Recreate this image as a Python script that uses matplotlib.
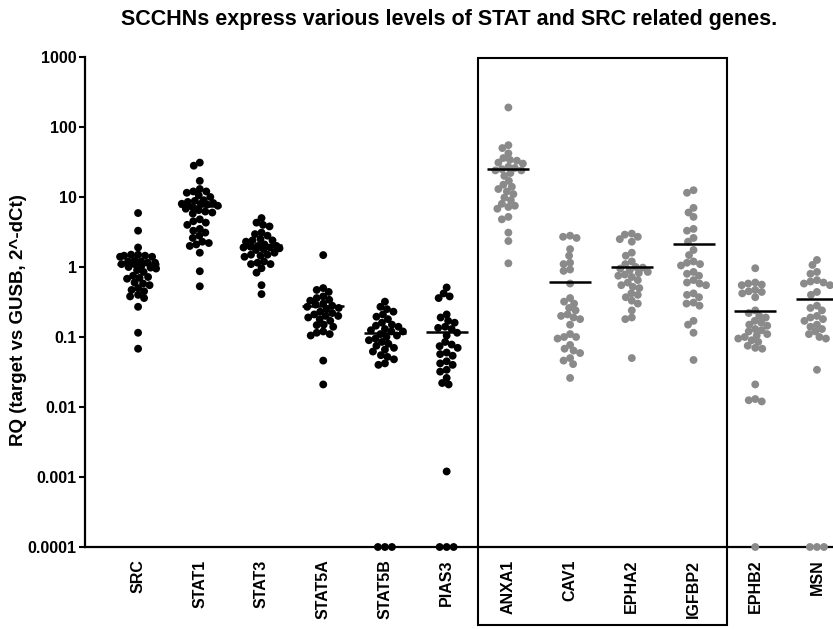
import numpy as np
import matplotlib
matplotlib.use('Agg')
import matplotlib.pyplot as plt
from matplotlib.patches import Rectangle

plt.rcParams['font.family'] = ['Liberation Sans', 'DejaVu Sans']

title = "SCCHNs express various levels of STAT and SRC related genes."
ylabel = "RQ (target vs GUSB, 2^-dCt)"
genes = ["SRC", "STAT1", "STAT3", "STAT5A", "STAT5B", "PIAS3",
         "ANXA1", "CAV1", "EPHA2", "IGFBP2", "EPHB2", "MSN"]
yticks = [0.0001, 0.001, 0.01, 0.1, 1, 10, 100, 1000]
ytick_labels = ["0.0001", "0.001", "0.01", "0.1", "1", "10", "100", "1000"]

SRC = [5.9, 3.3, 1.9, 1.5, 1.5, 1.45, 1.45, 1.4, 1.4, 1.25, 1.2, 1.2, 1.15, 1.15,
       1.1, 1.1, 1.05, 1.0, 0.98, 0.95, 0.9, 0.85, 0.75, 0.72, 0.7, 0.68, 0.6,
       0.58, 0.55, 0.5, 0.47, 0.45, 0.4, 0.38, 0.36, 0.27, 0.115, 0.068]
STAT1 = [31, 28, 17, 13, 12, 12, 11.5, 10.5, 10, 9, 8.8, 8.5, 8.2, 8.0, 8.0, 7.8,
         7.5, 7.2, 6.8, 6.5, 6.2, 6.0, 5.8, 4.8, 4.5, 4.3, 4.0, 3.5, 3.3, 3.1, 2.8,
         2.6, 2.3, 2.2, 2.1, 2.0, 1.6, 0.87, 0.53]
STAT3 = [5.0, 4.3, 4.0, 3.8, 3.1, 2.95, 2.8, 2.5, 2.4, 2.4, 2.3, 2.1, 2.0, 2.0,
         1.95, 1.9, 1.9, 1.85, 1.8, 1.75, 1.6, 1.5, 1.5, 1.45, 1.4, 1.2, 1.15, 1.1,
         1.1, 0.96, 0.83, 0.55, 0.41]
STAT5A = [1.48, 0.5, 0.47, 0.44, 0.38, 0.36, 0.34, 0.33, 0.3, 0.29, 0.28, 0.27,
          0.26, 0.25, 0.23, 0.22, 0.21, 0.2, 0.2, 0.19, 0.18, 0.17, 0.15, 0.148,
          0.14, 0.12, 0.115, 0.11, 0.105, 0.046, 0.021]
STAT5B = [0.32, 0.27, 0.25, 0.23, 0.21, 0.195, 0.18, 0.16, 0.15, 0.145, 0.14, 0.13,
          0.125, 0.12, 0.12, 0.11, 0.105, 0.1, 0.095, 0.09, 0.085, 0.08, 0.075, 0.07,
          0.066, 0.062, 0.055, 0.052, 0.048, 0.042, 0.04, 0.0001, 0.0001, 0.0001]
PIAS3 = [0.51, 0.42, 0.38, 0.36, 0.21, 0.19, 0.17, 0.16, 0.14, 0.135, 0.13, 0.115,
         0.105, 0.085, 0.078, 0.074, 0.07, 0.06, 0.057, 0.054, 0.045, 0.042, 0.04,
         0.034, 0.032, 0.026, 0.022, 0.021, 0.0012, 0.0001, 0.0001, 0.0001]
ANXA1 = [190, 55, 50, 42, 36, 34, 33, 31, 30, 27, 26, 25, 24, 24, 22, 20, 17, 15,
         14, 13, 12, 11, 9.8, 9.0, 8.0, 7.5, 7.2, 6.8, 5.2, 4.8, 3.1, 2.35, 1.13]
CAV1 = [2.8, 2.7, 2.6, 1.8, 1.45, 1.15, 1.1, 0.92, 0.88, 0.58, 0.36, 0.32, 0.3,
        0.26, 0.24, 0.21, 0.2, 0.19, 0.18, 0.15, 0.11, 0.1, 0.1, 0.095, 0.077, 0.068,
        0.064, 0.059, 0.05, 0.046, 0.041, 0.026]
EPHA2 = [3.0, 2.9, 2.7, 2.5, 2.3, 1.6, 1.45, 1.2, 1.1, 1.0, 0.98, 0.95, 0.9, 0.85,
         0.82, 0.78, 0.75, 0.72, 0.65, 0.6, 0.55, 0.52, 0.5, 0.42, 0.4, 0.37, 0.33,
         0.3, 0.24, 0.19, 0.18, 0.05]
IGFBP2 = [12.5, 11.5, 7.0, 6.0, 5.2, 3.5, 3.3, 2.6, 2.3, 1.75, 1.48, 1.2, 1.15, 1.1,
          1.05, 0.85, 0.8, 0.75, 0.65, 0.6, 0.58, 0.55, 0.42, 0.4, 0.37, 0.31, 0.3,
          0.28, 0.17, 0.15, 0.115, 0.047]
EPHB2 = [0.96, 0.6, 0.58, 0.56, 0.55, 0.47, 0.45, 0.44, 0.42, 0.37, 0.24, 0.22, 0.2,
         0.19, 0.17, 0.16, 0.15, 0.145, 0.13, 0.125, 0.12, 0.11, 0.105, 0.1, 0.095,
         0.09, 0.085, 0.075, 0.07, 0.068, 0.021, 0.013, 0.0125, 0.012, 0.0001]
MSN = [1.26, 1.07, 0.85, 0.8, 0.65, 0.62, 0.6, 0.58, 0.55, 0.44, 0.4, 0.28, 0.26,
       0.24, 0.2, 0.19, 0.18, 0.17, 0.15, 0.14, 0.13, 0.12, 0.11, 0.1, 0.095, 0.034,
       0.0001, 0.0001, 0.0001]

series = [SRC, STAT1, STAT3, STAT5A, STAT5B, PIAS3,
          ANXA1, CAV1, EPHA2, IGFBP2, EPHB2, MSN]
dot_colors = ["black"] * 6 + ["#8a8a8a"] * 6

W, H = 833, 629
fig = plt.figure(figsize=(W / 100, H / 100), dpi=100)
ax_left, ax_bottom, ax_top = 85, 547, 57
ax = fig.add_axes([ax_left / W, (H - ax_bottom) / H, 1 - ax_left / W,
                   (ax_bottom - ax_top) / H])
ax.set_yscale('log')
ax.set_ylim(1e-4, 1e3)
ax.set_xlim(-0.86, 11.26)

fig.canvas.draw()
px_per_unit = ax.transData.transform((1, 1))[0] - ax.transData.transform((0, 1))[0]
d = 6.6       # collision distance in px (allows slight overlap)
half_w = 18.0  # max horizontal spread in px
cand = np.arange(-half_w, half_w + 0.01, 0.5)


def swarm(vals):
    ys = ax.transData.transform(np.column_stack([np.zeros(len(vals)), vals]))[:, 1]
    order = np.argsort(-ys)
    px_list, py_list = [], []
    offs = np.zeros(len(vals))
    for i in order:
        y = ys[i]
        if px_list:
            P = np.array(px_list)
            Q = np.array(py_list)
            near = np.abs(Q - y) < d
            if near.any():
                dx = cand[:, None] - P[near][None, :]
                dy = (Q[near] - y)[None, :]
                dist = np.sqrt(dx ** 2 + dy ** 2)
                cost = np.clip(d - dist, 0, None).sum(axis=1)
            else:
                cost = np.zeros(len(cand))
        else:
            cost = np.zeros(len(cand))
        score = cost * 100 + np.abs(cand) + 1e-3 * cand
        c = cand[np.argmin(score)]
        offs[i] = c
        px_list.append(c)
        py_list.append(y)
    return offs / px_per_unit


for i, vals in enumerate(series):
    vals = np.array(vals, dtype=float)
    xo = swarm(vals)
    ax.scatter(i + xo, vals, s=32, color=dot_colors[i], edgecolors='none',
               zorder=3, clip_on=False)
    m = vals.mean()
    ax.plot([i - 0.34, i + 0.34], [m, m], color='black', lw=1.8, zorder=4,
            solid_capstyle='butt')

ax.set_yticks(yticks)
ax.set_yticklabels(ytick_labels, fontsize=11.5, fontweight='bold')
ax.yaxis.set_minor_locator(matplotlib.ticker.NullLocator())
ax.tick_params(axis='y', length=4, width=1.5, pad=2)
ax.set_xticks(range(len(genes)))
ax.set_xticklabels(genes, rotation=90, fontsize=11.5, fontweight='bold')
ax.tick_params(axis='x', length=0, pad=9)
for s in ['top', 'right']:
    ax.spines[s].set_visible(False)
for s in ['left', 'bottom']:
    ax.spines[s].set_linewidth(1.6)

fig.text(19 / W, 1 - 320 / H, ylabel, rotation=90, ha='center', va='center',
         fontsize=13.5, fontweight='bold')

fig.text(449 / W, 1 - 19 / H, title, ha='center', va='center', fontsize=15.5,
         fontweight='bold')

rect = Rectangle((478 / W, (H - 625) / H), (727 - 478) / W, (625 - 58) / H,
                 transform=fig.transFigure, fill=False, edgecolor='black', lw=1.5)
fig.patches.append(rect)

fig.savefig('out.png', dpi=100)
